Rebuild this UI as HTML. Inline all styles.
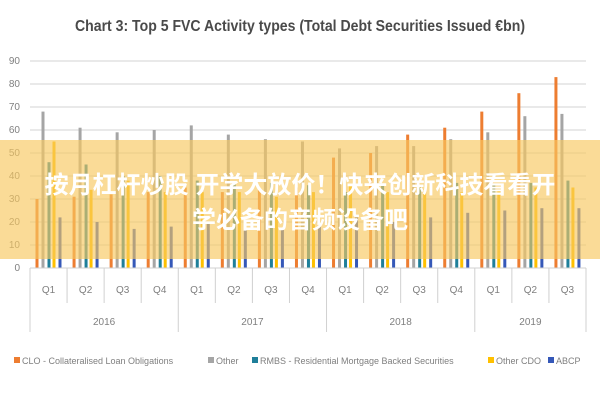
<!DOCTYPE html>
<html><head><meta charset="utf-8"><style>
body{margin:0;background:#fff;}
svg{display:block;font-family:"Liberation Sans",sans-serif;}
</style></head><body>
<svg width="600" height="400" viewBox="0 0 600 400" xmlns="http://www.w3.org/2000/svg">
<rect width="600" height="400" fill="#fff"/>
<text x="300" y="31" text-anchor="middle" font-size="16" font-weight="bold" fill="#4a4a4a" textLength="450" lengthAdjust="spacingAndGlyphs">Chart 3: Top 5 FVC Activity types (Total Debt Securities Issued €bn)</text>
<g id="grid" stroke="#dcdcdc" stroke-width="1.2"></g>
<g id="ylab" font-size="10" fill="#7f7f7f" text-anchor="end"></g>
<g id="bars"></g>
<g id="xaxis" stroke="#d0d0d0" stroke-width="1"></g>
<g id="xlab" font-size="10" fill="#7f7f7f" text-anchor="middle"></g>
<rect x="0" y="140" width="600" height="119" fill="rgb(248,200,95)" fill-opacity="0.65"/>
<text x="300" y="193" text-anchor="middle" font-size="24" font-weight="bold" fill="#fff" font-family="'Liberation Sans','Noto Sans CJK SC',sans-serif">按月杠杆炒股 开学大放价！快来创新科技看看开</text>
<text x="300" y="228" text-anchor="middle" font-size="24" font-weight="bold" fill="#fff" font-family="'Liberation Sans','Noto Sans CJK SC',sans-serif">学必备的音频设备吧</text>
<g font-size="9" fill="#7f7f7f">
<rect x="14" y="357" width="6" height="6" fill="#ED7D31"/><text x="22" y="364">CLO - Collateralised Loan Obligations</text>
<rect x="208" y="357" width="6" height="6" fill="#A5A5A5"/><text x="216" y="364">Other</text>
<rect x="252" y="357" width="6" height="6" fill="#1F7F9A"/><text x="260" y="364">RMBS - Residential Mortgage Backed Securities</text>
<rect x="488" y="357" width="6" height="6" fill="#FFC000"/><text x="496" y="364">Other CDO</text>
<rect x="548" y="357" width="6" height="6" fill="#3558B8"/><text x="556" y="364">ABCP</text>
</g>
</svg>
<script>
var ns="http://www.w3.org/2000/svg";
function el(p,t,a,txt){var e=document.createElementNS(ns,t);for(var k in a)e.setAttribute(k,a[k]);if(txt!=null)e.textContent=txt;document.getElementById(p).appendChild(e);}
var y0=268,u=2.3,x0=30,x1=586,gw=(x1-x0)/15;
for(var i=0;i<=9;i++){var y=y0-i*10*u;if(i>0)el("grid","line",{x1:x0,x2:x1,y1:y,y2:y});el("ylab","text",{x:20,y:y+3},""+i*10);}
var d=[[30,68,46,55,22],[31,61,45,34,20],[32,59,40,38,17],[33,60,40,33,18],[35,62,38,33,20],[33,58,37,33,17],[34,56,37,31,17],[35,55,36,33,18],[48,52,33,36,22],[50,53,36,33,20],[58,53,35,34,22],[61,56,37,33,24],[68,59,36,34,25],[76,66,37,35,26],[83,67,38,35,26]];
var c=["#ED7D31","#A5A5A5","#1F7F9A","#FFC000","#3558B8"];
var off=[7,13,19,24,30];
d.forEach(function(g,i){g.forEach(function(v,j){var h=v*u;el("bars","rect",{x:x0+i*gw+off[j]-1.5,y:y0-h,width:3,height:h,fill:c[j]});});});
el("xaxis","line",{x1:x0,x2:x1,y1:y0,y2:y0});
for(var i=0;i<=15;i++){var x=x0+i*gw;var yr=(i%4==0||i==15);el("xaxis","line",{x1:x,x2:x,y1:y0,y2:yr?332:303});}
var q=["Q1","Q2","Q3","Q4"];
for(var i=0;i<15;i++)el("xlab","text",{x:x0+(i+.5)*gw,y:293},q[i%4]);
["2016","2017","2018","2019"].forEach(function(t,k){var n=k<3?4:3;el("xlab","text",{x:x0+(k*4+n/2)*gw,y:325},t);});
</script>
</body></html>
